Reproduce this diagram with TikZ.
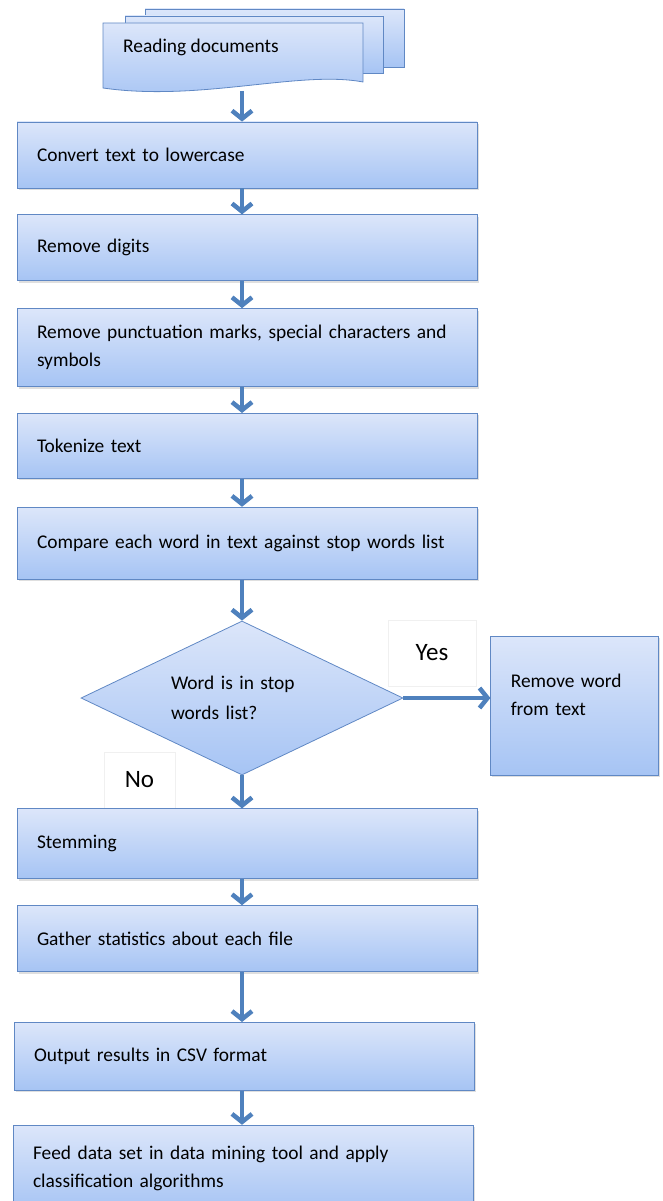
\documentclass[tikz,border=0pt]{standalone}
\usepackage{fontspec}
\setmainfont{Carlito}
\usetikzlibrary{shapes.geometric, arrows.meta, positioning, shadows}
\definecolor{boxtop}{HTML}{DCE6FA}
\definecolor{boxbot}{HTML}{A6C4F4}
\definecolor{boxline}{HTML}{6088C4}
\definecolor{arrowblue}{HTML}{4F81BD}

\begin{document}
\begin{tikzpicture}[
  x=1pt, y=1pt,
  node distance=26pt,
  stepbox/.style={rectangle, draw=boxline, top color=boxtop, bottom color=boxbot, thick, minimum height=66pt, minimum width=460pt, text width=420pt, inner xsep=20pt, align=left, font=\fontsize{19.4}{28}\selectfont, drop shadow={shadow xshift=1.5pt, shadow yshift=-2pt, opacity=0.25}},
  decision/.style={diamond, aspect=2, draw=boxline, top color=boxtop, bottom color=boxbot, thick, minimum width=322pt, minimum height=154pt, text width=142pt, inner sep=0pt, align=left, font=\fontsize{19.4}{30}\selectfont},
  page/.style={draw=boxline, top color=boxtop, bottom color=boxbot, thick},
  tag/.style={rectangle, draw=gray!12, fill=white, font=\fontsize{25}{28}\selectfont},
  arrow/.style={-{Straight Barb[length=8pt, width=20pt]}, line width=4.5pt, arrowblue}
]
\useasboundingbox (0,0) rectangle (662,-1201);
\coordinate (axis) at (242,0);

% stack of documents
\path[page] (145,-9) rectangle (404,-67);
\path[page] (125,-16) rectangle (383,-73);
\path[page] (103,-23) -- (363,-23) -- (363,-82) .. controls (300,-70) and (200,-102) .. (103,-88) -- cycle;
\node[anchor=west, inner sep=0pt, font=\fontsize{19.4}{28}\selectfont] (read) at (123,-47) {Reading documents};
\coordinate (docbot) at (242,-91);

\node[stepbox] (conv) at (247,-155) {Convert text to lowercase};
\node[stepbox, below=of conv] (digits) {Remove digits};
\node[stepbox, below=27pt of digits, minimum height=78pt] (punct) {Remove punctuation marks, special characters and\\symbols};
\node[stepbox, below=of punct, minimum height=65pt] (token) {Tokenize text};
\node[stepbox, below=28pt of token, minimum height=72pt] (compare) {Compare each word in text against stop words list};

\node[decision, below=41pt of compare.south -| axis, anchor=north] (dia) {Word is in stop\\words list?};
\node[tag, minimum width=88pt, minimum height=66pt] (yes) at (432,-653) {Yes};
\node[stepbox, minimum width=168pt, text width=128pt, minimum height=139pt, text depth=50pt, right=87pt of dia, yshift=-7.5pt] (remove) {Remove word\\from text};
\node[tag, minimum width=71pt, minimum height=56pt] (no) at (139.5,-780) {No};

\node[stepbox, below=33pt of dia.south -| conv, minimum height=70pt, anchor=north] (stem) {Stemming};
\node[stepbox, below=of stem] (gather) {Gather statistics about each file};
\node[stepbox, below=50pt of gather, minimum height=68pt, xshift=-3pt] (output) {Output results in CSV format};
\node[stepbox, below=34pt of output, minimum height=86pt, text depth=30pt, xshift=-1pt] (feed) {Feed data set in data mining tool and apply\\classification algorithms};

\draw[arrow] (docbot) -- (conv.north -| axis);
\draw[arrow] (conv.south -| axis) -- (digits.north -| axis);
\draw[arrow] (digits.south -| axis) -- (punct.north -| axis);
\draw[arrow] (punct.south -| axis) -- (token.north -| axis);
\draw[arrow] (token.south -| axis) -- (compare.north -| axis);
\draw[arrow] (compare.south -| axis) -- (dia.north);
\draw[arrow] (dia.east) -- (dia.east -| remove.west);
\draw[arrow] (dia.south) -- (stem.north -| axis);
\draw[arrow] (stem.south -| axis) -- (gather.north -| axis);
\draw[arrow] (gather.south -| axis) -- (output.north -| axis);
\draw[arrow] (output.south -| axis) -- (feed.north -| axis);

\end{tikzpicture}
\end{document}
